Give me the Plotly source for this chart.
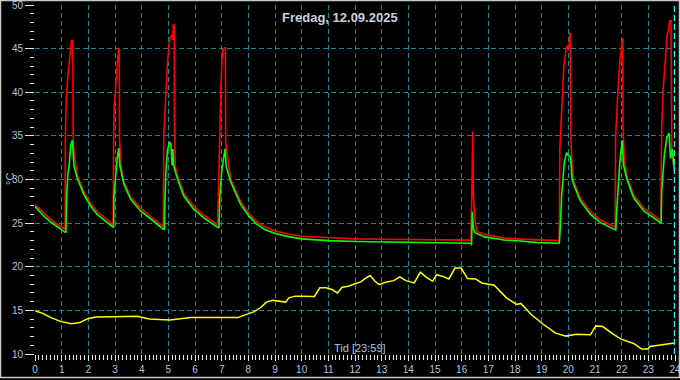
import plotly.graph_objects as go

# ---- data (hours, °C) ----
red_x = [0.0, 0.3, 0.6, 0.9, 1.13, 1.14, 1.17, 1.22, 1.26, 1.30, 1.34, 1.37, 1.40, 1.42, 1.43, 1.46,
         1.58, 1.83, 2.08, 2.33, 2.71, 2.93,
         2.95, 2.97, 3.01, 3.05, 3.09, 3.13, 3.16, 3.17, 3.22, 3.33, 3.58, 3.96, 4.33, 4.81,
         4.83, 4.89, 4.93, 4.97, 5.02, 5.06, 5.14, 5.17, 5.18, 5.22, 5.23, 5.26, 5.33, 5.58, 5.95, 6.33, 6.85,
         6.89, 6.93, 6.97, 7.01, 7.05, 7.10, 7.14, 7.15, 7.33, 7.71, 8.02,
         8.3, 8.6, 9.0, 9.5, 10.0, 11.0, 12.0, 13.0, 14.0, 15.0, 16.35,
         16.38, 16.42, 16.44, 16.48, 16.52, 16.55, 16.58, 16.83, 17.2, 17.58, 18.2, 18.83, 19.66,
         19.68, 19.73, 19.78, 19.83, 19.88, 19.93, 19.98, 20.03, 20.05, 20.07, 20.08, 20.10, 20.14,
         20.2, 20.45, 20.83, 21.2, 21.7, 21.76,
         21.77, 21.83, 21.89, 21.95, 22.02, 22.04, 22.05, 22.10, 22.2, 22.45, 22.83, 23.2, 23.45, 23.47,
         23.48, 23.50, 23.55, 23.60, 23.65, 23.70, 23.75, 23.80, 23.85, 23.86, 23.88, 23.95, 23.98]
red_y = [27.1, 26.2, 25.4, 24.7, 24.3, 35.1, 38.9, 41.4, 42.7, 43.9, 45.0, 46.0, 45.5, 46.0, 35.1, 33.2,
         30.5, 28.6, 27.27, 26.3, 25.36, 24.8,
         35.1, 38.5, 40.0, 42.0, 43.9, 45.0, 45.0, 34.6, 31.66, 29.75, 28.03, 26.7, 25.74, 24.6,
         35.1, 38.9, 41.3, 43.6, 45.2, 46.2, 46.6, 46.0, 47.7, 47.7, 37.05, 31.6, 30.5, 28.4, 26.9, 25.9, 24.8,
         30.7, 37.4, 40.4, 43.6, 44.9, 45.1, 45.1, 34.3, 30.1, 27.45, 26.1,
         25.2, 24.6, 24.1, 23.75, 23.5, 23.35, 23.2, 23.15, 23.1, 23.07, 23.05,
         28.6, 35.5, 27.9, 25.9, 24.8, 24.4, 24.0, 23.75, 23.5, 23.28, 23.17, 23.06, 23.0,
         33.4, 36.25, 40.26, 42.9, 44.1, 45.2, 45.3, 45.0, 46.75, 46.75, 39.3, 34.3, 31.66,
         29.75, 27.85, 26.3, 25.36, 24.6, 24.5,
         34.7, 38.9, 41.8, 44.1, 46.2, 46.2, 35.9, 32.4, 30.3, 28.2, 26.7, 25.9, 25.36, 25.3,
         29.75, 35.5, 40.06, 42.2, 44.3, 46.4, 47.1, 48.2, 48.2, 40.5, 33.5, 31.8, 31.0]

green_x = [0.0, 0.3, 0.6, 0.9, 1.13, 1.16, 1.161, 1.19, 1.23, 1.28, 1.34, 1.40, 1.43, 1.46,
           1.58, 1.83, 2.08, 2.33, 2.71, 2.93,
           2.95, 2.96, 3.02, 3.08, 3.14, 3.18, 3.33, 3.58, 3.96, 4.33, 4.81,
           4.85, 4.86, 4.91, 4.96, 5.04, 5.10, 5.14, 5.17, 5.20, 5.33, 5.58, 5.95, 6.33, 6.85,
           6.90, 6.93, 7.01, 7.07, 7.13, 7.17, 7.33, 7.71, 8.02,
           8.3, 8.6, 9.0, 9.5, 10.0, 11.0, 12.0, 13.0, 14.0, 15.0, 16.35,
           16.37, 16.40, 16.44, 16.50, 16.83, 17.2, 17.58, 18.2, 18.83, 19.66,
           19.70, 19.75, 19.80, 19.85, 19.93, 20.02, 20.08, 20.14,
           20.2, 20.45, 20.83, 21.2, 21.7, 21.78,
           21.80, 21.87, 21.93, 22.02, 22.07, 22.2, 22.45, 22.83, 23.2, 23.45, 23.48,
           23.50, 23.55, 23.60, 23.70, 23.78, 23.83, 23.90, 23.95, 23.98]
green_y = [26.9, 25.9, 25.1, 24.4, 23.95, 23.95, 26.2, 28.2, 30.5, 31.6, 33.95, 34.5, 33.2, 31.6,
           30.2, 28.3, 27.0, 26.0, 25.05, 24.5,
           24.5, 28.0, 30.5, 32.4, 33.6, 31.66, 29.5, 27.75, 26.4, 25.45, 24.3,
           24.3, 26.4, 30.9, 33.2, 34.3, 34.0, 31.6, 33.5, 31.6, 30.2, 28.1, 26.6, 25.6, 24.5,
           24.5, 28.0, 31.2, 32.7, 33.5, 31.5, 29.8, 27.15, 25.8,
           24.9, 24.3, 23.8, 23.45, 23.2, 23.0, 22.9, 22.85, 22.8, 22.75, 22.7,
           22.5, 26.3, 24.4, 23.9, 23.45, 23.26, 23.06, 22.95, 22.77, 22.69,
           24.5, 28.2, 30.1, 32.0, 33.0, 32.8, 32.6, 30.1,
           29.45, 27.55, 26.0, 25.05, 24.3, 24.2,
           25.7, 29.75, 32.0, 34.5, 31.66, 30.0, 27.9, 26.4, 25.6, 25.05, 25.0,
           28.6, 31.2, 32.8, 34.9, 35.3, 32.4, 33.5, 31.66, 31.2]

yellow_x = [0.02, 0.29, 0.6, 0.98, 1.37, 1.68, 1.98, 2.29, 2.91, 3.83, 4.29, 5.06, 5.83, 6.9, 7.6,
            7.83, 8.22, 8.45, 8.68, 8.91, 9.22, 9.4, 9.52, 9.75, 9.98, 10.48, 10.68, 10.91, 11.14,
            11.34, 11.52, 11.75, 11.98, 12.22, 12.37, 12.57, 12.75, 12.91, 13.14, 13.45, 13.68,
            13.91, 14.22, 14.45, 14.68, 14.91, 15.06, 15.29, 15.52, 15.75, 15.98, 16.22, 16.52,
            16.75, 17.22, 17.68, 18.06, 18.22, 18.6, 19.06, 19.52, 19.91, 20.29, 20.83, 21.03,
            21.29, 21.68, 21.98, 22.45, 22.75, 22.98, 23.06, 23.52, 23.98]
yellow_y = [14.92, 14.66, 14.17, 13.71, 13.48, 13.6, 14.05, 14.24, 14.28, 14.32, 14.0, 13.9, 14.17,
            14.17, 14.17, 14.43, 14.85, 15.3, 15.95, 16.17, 16.06, 15.95, 16.44, 16.63, 16.63, 16.6,
            17.58, 17.58, 17.39, 17.0, 17.65, 17.77, 18.03, 18.26, 18.64, 19.0, 18.33, 17.95, 18.22,
            18.41, 18.83, 18.41, 18.14, 19.39, 18.79, 18.33, 19.09, 18.9, 18.6, 19.85, 19.85, 18.64,
            18.6, 18.14, 17.88, 16.44, 15.68, 15.8, 14.55, 13.41, 12.39, 12.05, 12.27, 12.2, 13.22,
            13.14, 12.27, 11.7, 11.21, 10.57, 10.57, 10.87, 11.06, 11.25]

x_ticks = list(range(0, 25))
y_ticks = [10, 15, 20, 25, 30, 35, 40, 45, 50]
title_text = "Fredag, 12.09.2025"
x_label = "Tid [23:59]"
y_label = "°C"
now_hour = 23 + 59 / 60

# ---- styling ----
W, H = 680, 380
ML, MR, MT, MB = 35, 5, 5, 26
PW, PH = W - ML - MR, H - MT - MB
label_col = "#B4C4DC"
tick_col = "#E6E6E6"
grid_col = "#009090"
font_family = "Liberation Sans"


def px_x(p):
    return (p - ML) / PW


def px_y(p):
    return (H - MB - p) / PH


fig = go.Figure()
fig.add_trace(go.Scatter(x=yellow_x, y=yellow_y, mode="lines",
                         line=dict(color="#FFFF00", width=1.5), hoverinfo="skip"))
fig.add_trace(go.Scatter(x=red_x, y=red_y, mode="lines",
                         line=dict(color="#FF0000", width=1.6), hoverinfo="skip"))
fig.add_trace(go.Scatter(x=green_x, y=green_y, mode="lines",
                         line=dict(color="#00FF00", width=1.6), hoverinfo="skip"))

fig.update_layout(
    width=W, height=H,
    margin=dict(l=ML, r=MR, t=MT, b=MB, pad=0, autoexpand=False),
    paper_bgcolor="black", plot_bgcolor="black",
    showlegend=False,
    font=dict(family=font_family, size=10, color=label_col),
    xaxis=dict(range=[0, 24], tickvals=x_ticks, ticktext=[str(v) for v in x_ticks],
               automargin=False, ticklabeloverflow="allow",
               showgrid=True, gridcolor=grid_col, griddash="5px,3px", gridwidth=1,
               ticks="outside", ticklen=6, tickwidth=1, tickcolor=tick_col,
               zeroline=False, showline=False,
               tickfont=dict(family=font_family, size=10, color=label_col),
               minor=dict(dtick=1 / 7, tick0=0, ticks="outside", ticklen=5, tickwidth=1,
                          tickcolor=tick_col, showgrid=False)),
    yaxis=dict(range=[10, 50], tickvals=y_ticks, ticktext=[str(v) for v in y_ticks],
               automargin=False, ticklabeloverflow="allow",
               showgrid=True, gridcolor=grid_col, griddash="5px,3px", gridwidth=1,
               ticks="outside", ticklen=9, tickwidth=1, tickcolor=tick_col,
               zeroline=False, showline=False,
               tickfont=dict(family=font_family, size=10, color=label_col),
               minor=dict(dtick=1, tick0=10, ticks="outside", ticklen=4, tickwidth=1,
                          tickcolor=tick_col, showgrid=False)),
    annotations=[
        dict(text=title_text, x=px_x(340), y=px_y(17), xref="paper", yref="paper",
             showarrow=False, xanchor="center", yanchor="middle",
             font=dict(family=font_family, size=13, color="#C8D0DC", weight="bold")),
        dict(text=x_label, x=px_x(360), y=px_y(348), xref="paper", yref="paper",
             showarrow=False, xanchor="center", yanchor="middle",
             font=dict(family=font_family, size=11, color=label_col)),
        dict(text=y_label, x=px_x(10), y=px_y(179), xref="paper", yref="paper",
             showarrow=False, xanchor="center", yanchor="middle", textangle=-90,
             font=dict(family=font_family, size=11, color=label_col)),
    ],
    shapes=[
        dict(type="line", x0=now_hour, x1=now_hour, y0=0, y1=1, xref="x", yref="paper",
             line=dict(color="#00FFFF", width=1.5, dash="6px,3px")),
        dict(type="rect", x0=px_x(0.5), x1=px_x(679.5), y0=px_y(0.5), y1=px_y(377.5),
             xref="paper", yref="paper", line=dict(color="#C8C8C8", width=1.5)),
    ],
)

fig.write_html(
    "out.html",
    config={"displayModeBar": False},
    post_script="document.body.style.margin='0px';document.body.style.overflow='hidden';",
)
